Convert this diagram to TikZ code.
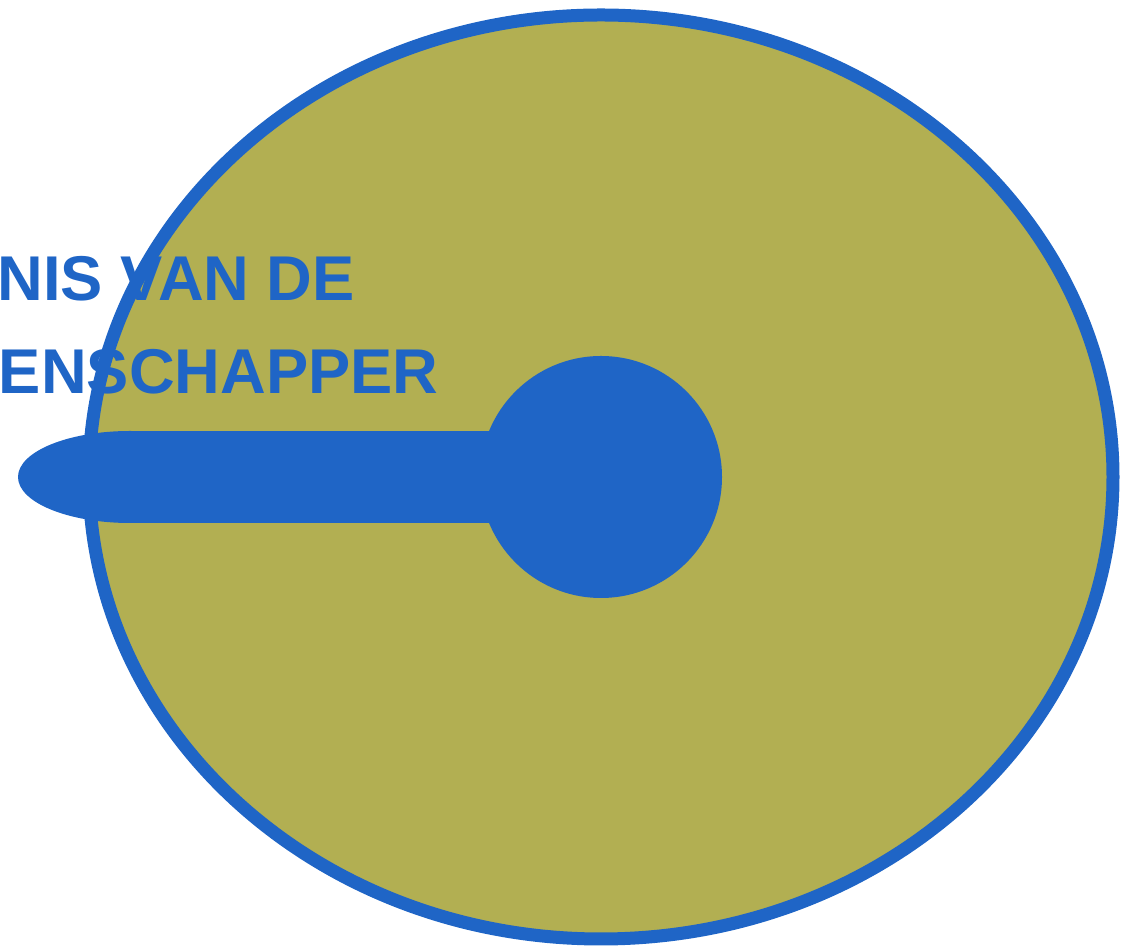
\documentclass[tikz,border=0pt]{standalone}
\usepackage{fontspec}
\setmainfont{Liberation Sans}
\newfontfamily\vetletter{Liberation Sans Bold}
\definecolor{olijf}{RGB}{178,175,82}
\definecolor{blauw}{RGB}{31,101,198}
\usetikzlibrary{shapes.geometric}

\begin{document}
\begin{tikzpicture}[
  every node/.style={inner sep=0pt, outer sep=0pt},
  schijf/.style={draw=blauw, fill=olijf, ellipse, line width=0.26cm},
  vlek/.style={fill=blauw, draw=none},
  woord/.style={text=blauw, font=\vetletter\fontsize{36}{40}\selectfont, anchor=base west}]
\useasboundingbox (0,0) rectangle (22.74,18.94);
\node[schijf, minimum width=20.48cm, minimum height=18.48cm] (disc) at (12.02,9.4) {};
\node[vlek, ellipse, minimum width=4.48cm, minimum height=1.84cm] (tip) at (2.6,9.4) {};
\node[vlek, circle, minimum size=4.84cm] (hub) at (12.02,9.4) {};
\draw[blauw, line width=1.84cm] (tip.center) -- (hub.center);
\node[woord] (regel1) at (-0.05,12.92) {NIS VAN DE};
\node[woord] (regel2) at (-0.02,11.06) {ENSCHAPPER};
\end{tikzpicture}
\end{document}
